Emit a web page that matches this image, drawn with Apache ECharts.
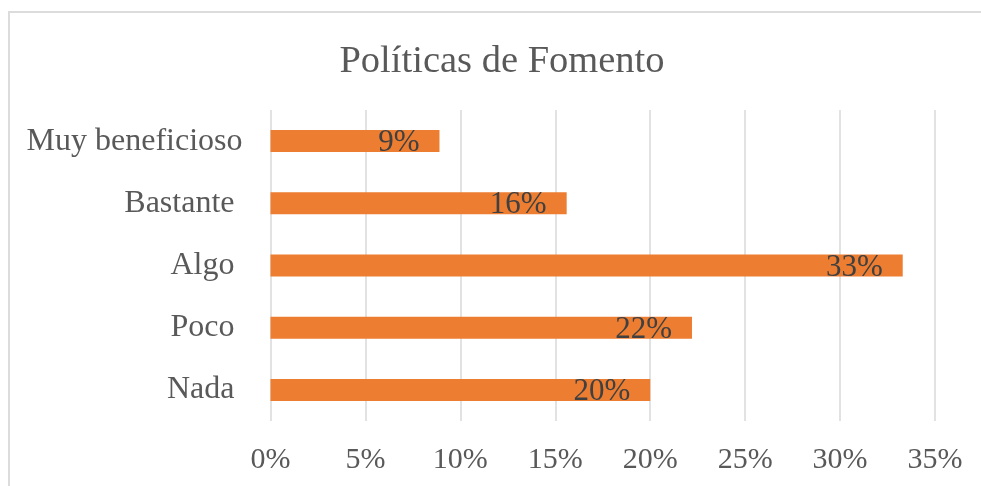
<!DOCTYPE html>
<html>
<head>
<meta charset="utf-8">
<script src="https://cdn.jsdelivr.net/npm/echarts@6/dist/echarts.min.js"></script>
<style>
html,body{margin:0;padding:0;background:#fff;}
#frame{position:absolute;left:8px;top:11px;width:1200px;height:600px;border-top:2px solid #dcdcdc;border-left:2px solid #dcdcdc;box-sizing:border-box;}
#chart{position:absolute;left:0;top:0;width:981px;height:486px;}
</style>
</head>
<body>
<div id="frame"></div>
<div id="chart"></div>
<script>
const titleText = 'Políticas de Fomento';
const categories = ['Muy beneficioso', 'Bastante ', 'Algo ', 'Poco ', 'Nada '];
const values = [8.9, 15.6, 33.3, 22.2, 20.0];
const xTicks = [0, 5, 10, 15, 20, 25, 30, 35];

const FONT = "'Liberation Serif', 'Times New Roman', serif";
const chart = echarts.init(document.getElementById('chart'), null, {renderer: 'canvas'});
chart.setOption({
  backgroundColor: 'transparent',
  animation: false,
  title: {
    text: titleText,
    left: 497,
    top: 37,
    textAlign: 'center',
    textStyle: {fontFamily: FONT, fontSize: 38.5, fontWeight: 'normal', color: '#595959'}
  },
  grid: {left: 270.5, right: 46, top: 110, bottom: 65, containLabel: false},
  xAxis: {
    type: 'value',
    min: xTicks[0],
    max: xTicks[xTicks.length - 1],
    interval: 5,
    axisLine: {show: false},
    axisTick: {show: false},
    splitLine: {show: true, lineStyle: {color: '#d9d9d9', width: 1.5}},
    axisLabel: {
      margin: 24,
      fontFamily: FONT, fontSize: 30, color: '#595959',
      formatter: v => v + '%'
    }
  },
  yAxis: {
    type: 'category',
    data: categories,
    inverse: true,
    axisLine: {show: false},
    axisTick: {show: false},
    splitLine: {show: false},
    axisLabel: {margin: 28, fontFamily: FONT, fontSize: 32, color: '#595959'}
  },
  series: [{
    type: 'bar',
    data: values,
    barWidth: 22,
    itemStyle: {color: '#ED7D31'},
    label: {
      show: true,
      position: 'insideRight',
      distance: 20,
      offset: [0, 2],
      fontFamily: FONT,
      fontSize: 31,
      color: '#404040',
      formatter: p => Math.round(p.value) + '%'
    }
  }]
});
</script>
</body>
</html>
